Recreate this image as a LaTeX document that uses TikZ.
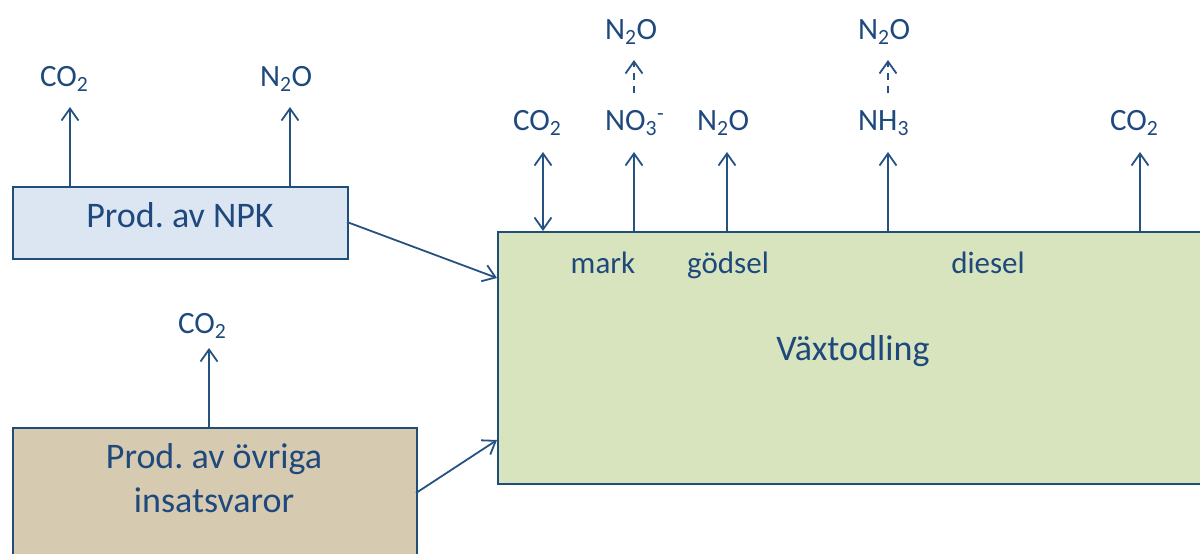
\documentclass[tikz,border=0pt]{standalone}
\usepackage{fontspec}
\setmainfont{Carlito}
\frenchspacing
\usetikzlibrary{arrows.meta}
\definecolor{txt}{RGB}{31,73,125}
\definecolor{ln}{RGB}{38,82,130}
\definecolor{bord}{RGB}{31,78,121}
\definecolor{npkfill}{RGB}{220,230,242}
\definecolor{ovrfill}{RGB}{214,203,176}
\definecolor{vaxfill}{RGB}{215,228,189}
\tikzset{
  boxst/.style={draw=bord, line width=2.4pt, inner sep=0pt, anchor=north west, text=txt, font=\fontsize{36}{44}\selectfont},
  boxtxt/.style={inner sep=0pt, anchor=base, text=txt, font=\fontsize{36}{44}\selectfont},
  lab/.style={anchor=base west, inner sep=0pt, text=txt, font=\fontsize{31}{36}\selectfont},
  inlab/.style={anchor=base, inner sep=0pt, text=txt, font=\fontsize{31}{36}\selectfont},
  arr/.style={draw=ln, line width=1.8pt, -{Straight Barb[length=12pt,width=17pt,line width=1.8pt]}},
  darr/.style={arr, dash pattern=on 7pt off 6pt},
  barr/.style={arr, {Straight Barb[length=12pt,width=17pt,line width=1.8pt]}-{Straight Barb[length=12pt,width=17pt,line width=1.8pt]}}
}
\begin{document}
\begin{tikzpicture}[x=1pt,y=-1pt]
\useasboundingbox (0,0) rectangle (1200,554);
\clip (0,0) rectangle (1200,554);
% boxes
\node[boxst, fill=npkfill, minimum width=335pt, minimum height=72pt] (npk) at (12,186) {};
\node[boxtxt] (npkt) at (180,227) {Prod. av NPK};
\node[boxst, fill=ovrfill, minimum width=404pt, minimum height=160pt] (ovr) at (12,427) {};
\node[boxtxt] (ovrt1) at (214,468) {Prod. av övriga};
\node[boxtxt] (ovrt2) at (214,512) {insatsvaror};
\node[boxst, fill=vaxfill, minimum width=720pt, minimum height=252pt] (vax) at (497,231) {};
\node[boxtxt] (vaxt) at (853,360) {Växtodling};
\node[inlab] (mark) at (603,273) {mark};
\node[inlab] (godsel) at (728,273) {gödsel};
\node[inlab] (diesel) at (988,273) {diesel};
% labels
\node[lab] (l1) at (40,86) {CO\textsubscript{2}};
\node[lab] (l2) at (260,86) {N\textsubscript{2}O};
\node[lab] (l3) at (178,333) {CO\textsubscript{2}};
\node[lab] (l4) at (513,130) {CO\textsubscript{2}};
\node[lab] (l5) at (605,130) {NO\textsubscript{3}\textsuperscript{-}};
\node[lab] (l6) at (697,130) {N\textsubscript{2}O};
\node[lab] (l7) at (858,130) {NH\textsubscript{3}};
\node[lab] (l8) at (1110,130) {CO\textsubscript{2}};
\node[lab] (l9) at (605,39) {N\textsubscript{2}O};
\node[lab] (l10) at (858,39) {N\textsubscript{2}O};
% arrow tip coordinates
\coordinate (t1) at (70,107);
\coordinate (t2) at (290,107);
\coordinate (t3) at (209,348);
\coordinate (t4) at (543,152);
\coordinate (t5) at (634,152);
\coordinate (t6) at (727,152);
\coordinate (t7) at (888,152);
\coordinate (t8) at (1140,152);
\coordinate (d5s) at (634,93);
\coordinate (d5e) at (634,60);
\coordinate (d7s) at (888,93);
\coordinate (d7e) at (888,60);
\coordinate (in1) at (497,278);
\coordinate (in2) at (497,440);
\coordinate (out1) at (347,222);
\coordinate (out2) at (416,493);
% arrows
\draw[arr] (npk.north -| t1) -- (t1);
\draw[arr] (npk.north -| t2) -- (t2);
\draw[arr] (ovr.north -| t3) -- (t3);
\draw[barr] (vax.north -| t4) -- (t4);
\draw[arr] (vax.north -| t5) -- (t5);
\draw[arr] (vax.north -| t6) -- (t6);
\draw[arr] (vax.north -| t7) -- (t7);
\draw[arr] (vax.north -| t8) -- (t8);
\draw[darr] (d5s) -- (d5e);
\draw[darr] (d7s) -- (d7e);
\draw[arr] (out1) -- (in1);
\draw[arr] (out2) -- (in2);
\end{tikzpicture}
\end{document}
